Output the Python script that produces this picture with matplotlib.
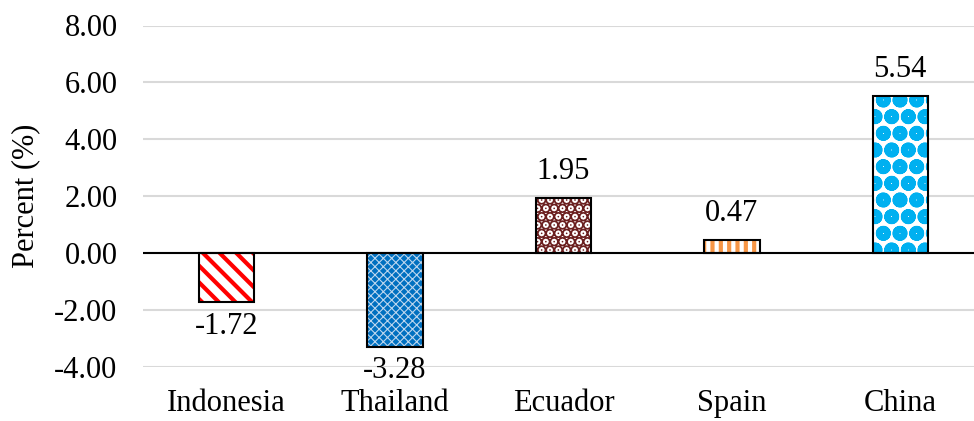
import matplotlib
matplotlib.use("Agg")
import matplotlib.pyplot as plt

plt.rcParams['font.family'] = ['Liberation Serif', 'DejaVu Serif']

countries = ["Indonesia", "Thailand", "Ecuador", "Spain", "China"]
values = [-1.72, -3.28, 1.95, 0.47, 5.54]
yticks = [-4, -2, 0, 2, 4, 6, 8]

# face colour, hatch colour, hatch pattern, hatch line width
styles = [
    ("white", "#FF0000", "\\\\", 3.0),
    ("#0070C0", "#BDD7EE", "xxxx", 0.8),
    ("white", "#6B1F1F", "..", 5.5),
    ("white", "#F79646", "||", 3.0),
    ("white", "#00B0F0", "o", 6.0),
]

fig = plt.figure(figsize=(9.74, 4.21), dpi=100)
ax = fig.add_axes([142.5 / 974, 54 / 421, 842 / 974, 341.5 / 421])

fs = 22
x = list(range(len(countries)))
for i, (v, (fc, hc, h, hlw)) in enumerate(zip(values, styles)):
    plt.rcParams['hatch.linewidth'] = hlw
    ax.bar(i, v, width=0.33, color=fc, edgecolor=hc, hatch=h, linewidth=0, zorder=3)
    ax.bar(i, v, width=0.33, fill=False, edgecolor="black", linewidth=1.5, zorder=4)
    if v >= 0:
        ax.text(i, v + 0.4, f"{v:.2f}", ha="center", va="bottom", fontsize=fs)
    else:
        ax.text(i, v - 0.35, f"{v:.2f}", ha="center", va="top", fontsize=fs)

ax.set_xlim(-0.5, 4.5)
ax.set_ylim(-4, 8)
ax.set_yticks(yticks)
ax.set_yticklabels([f"{t:.2f}" for t in yticks], fontsize=fs)
ax.set_xticks(x)
ax.set_xticklabels(countries, fontsize=fs)
ax.tick_params(axis="both", length=0)
ax.tick_params(axis="y", pad=18)
ax.tick_params(axis="x", pad=16)
ax.grid(axis="y", color="#D9D9D9", linewidth=1.5, zorder=0)
ax.axhline(0, color="black", linewidth=1.5, zorder=5)
for s in ax.spines.values():
    s.set_visible(False)
ax.set_ylabel("Percent (%)", fontsize=fs, labelpad=10)

plt.savefig("out.png", dpi=100)
